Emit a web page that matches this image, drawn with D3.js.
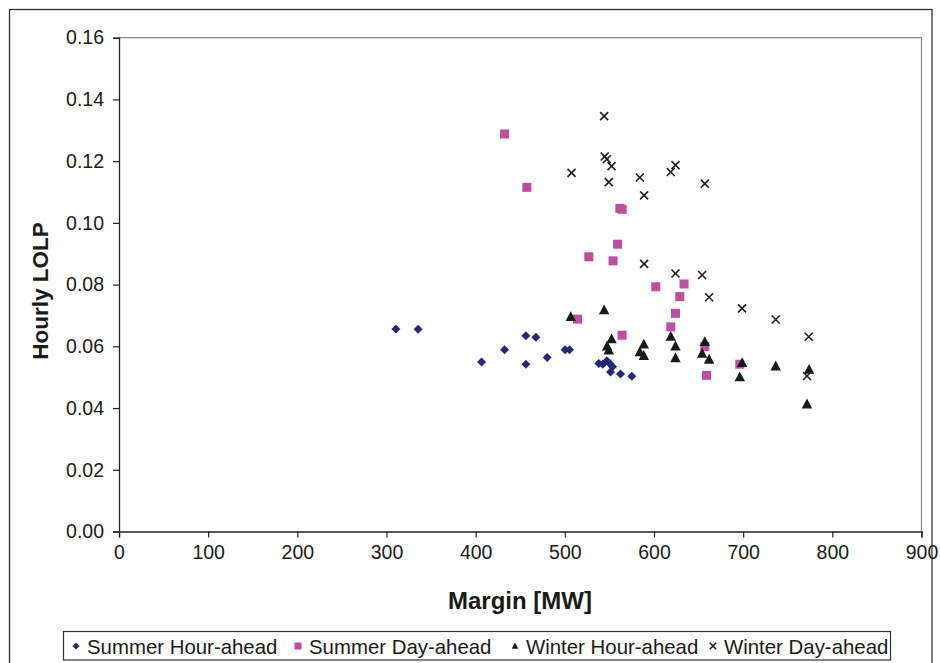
<!DOCTYPE html>
<html>
<head>
<meta charset="utf-8">
<script src="https://cdn.jsdelivr.net/npm/d3@7"></script>
<style>
  html, body { margin: 0; padding: 0; background: #fff; }
  svg { display: block; font-family: "Liberation Sans", Arial, sans-serif; }
</style>
</head>
<body>
<svg id="chart" width="940" height="663"></svg>
<script>
// Hourly loss-of-load probability versus generation margin
const xTicks = [0, 100, 200, 300, 400, 500, 600, 700, 800, 900];
const yTicks = [0, 0.02, 0.04, 0.06, 0.08, 0.10, 0.12, 0.14, 0.16];

const summerHourMW   = [310.5, 335.5, 406.6, 432.4, 456.3, 467.5, 456.3, 480.2, 500.3, 505.3, 538.1, 542.6, 547.1, 550.4, 553.5, 551.2, 562.4, 575.1];
const summerHourLOLP = [0.0656, 0.0655, 0.0549, 0.0589, 0.0634, 0.0629, 0.0542, 0.0564, 0.0589, 0.0589, 0.0544, 0.0542, 0.0553, 0.0544, 0.0534, 0.0517, 0.0510, 0.0503];

const summerDayMW   = [432.4, 457.4, 561.7, 564.3, 559.1, 526.9, 554.1, 602.0, 633.7, 628.9, 624.1, 618.8, 514.2, 564.2, 657.0, 696.2, 658.9];
const summerDayLOLP = [0.1288, 0.1115, 0.1047, 0.1044, 0.0931, 0.0890, 0.0877, 0.0793, 0.0802, 0.0761, 0.0707, 0.0663, 0.0688, 0.0636, 0.0599, 0.0542, 0.0506];

const winterHourMW   = [506.7, 544.1, 552.4, 547.4, 549.3, 588.6, 584.1, 588.6, 618.8, 624.1, 624.1, 657.0, 654.0, 661.8, 698.8, 696.2, 736.5, 773.9, 771.6];
const winterHourLOLP = [0.0696, 0.0718, 0.0624, 0.0601, 0.0588, 0.0607, 0.0582, 0.0570, 0.0632, 0.0601, 0.0563, 0.0615, 0.0577, 0.0558, 0.0547, 0.0501, 0.0536, 0.0525, 0.0413];

const winterDayMW   = [544.1, 544.7, 547.0, 552.4, 507.5, 549.3, 584.1, 588.9, 618.8, 624.1, 657.0, 588.9, 624.1, 654.0, 661.8, 698.8, 736.5, 773.5, 771.6];
const winterDayLOLP = [0.1346, 0.1215, 0.1206, 0.1184, 0.1162, 0.1132, 0.1147, 0.1089, 0.1165, 0.1187, 0.1127, 0.0867, 0.0836, 0.0831, 0.0759, 0.0723, 0.0687, 0.0631, 0.0504];

const seriesNames = ["Summer Hour-ahead", "Summer Day-ahead", "Winter Hour-ahead", "Winter Day-ahead"];

const series = [
  { name: seriesNames[0], mw: summerHourMW, lolp: summerHourLOLP, shape: "diamond",  color: "#262878" },
  { name: seriesNames[1], mw: summerDayMW,  lolp: summerDayLOLP,  shape: "square",   color: "#bd4f9f" },
  { name: seriesNames[2], mw: winterHourMW, lolp: winterHourLOLP, shape: "triangle", color: "#1a1a1a" },
  { name: seriesNames[3], mw: winterDayMW,  lolp: winterDayLOLP,  shape: "cross",    color: "#1e1e1e" }
];

const svg = d3.select("#chart");
const plotL = 119, plotR = 921.5, plotT = 37.7, plotB = 531.5;

const x = d3.scaleLinear().domain([0, 900]).range([plotL, plotR]);
const y = d3.scaleLinear().domain([0, 0.16]).range([plotB, plotT]);

// outer chart frame
svg.append("rect")
  .attr("x", 9.5).attr("y", 9.5).attr("width", 922.5).attr("height", 680)
  .attr("fill", "none").attr("stroke", "#333").attr("stroke-width", 1.3);

// plot-area frame (top and right edges)
svg.append("path")
  .attr("d", `M${plotL},${plotT}H${plotR}V${plotB}`)
  .attr("fill", "none").attr("stroke", "#8a8a8a").attr("stroke-width", 1.2);

// axes
const xAxis = d3.axisBottom(x).tickValues(xTicks).tickSize(6).tickPadding(8).tickFormat(d3.format("d"));
const yAxis = d3.axisLeft(y).tickValues(yTicks).tickSize(6).tickPadding(9).tickFormat(d3.format(".2f"));

const gx = svg.append("g").attr("transform", `translate(0,${plotB})`).call(xAxis);
const gy = svg.append("g").attr("transform", `translate(${plotL},0)`).call(yAxis);
[gx, gy].forEach(g => {
  g.select(".domain").attr("stroke", "#222").attr("stroke-width", 1.3);
  g.selectAll(".tick line").attr("stroke", "#222").attr("stroke-width", 1.2);
  g.selectAll(".tick text").attr("fill", "#1a1a1a").style("font-size", "19.5px")
    .style("font-family", "'Liberation Sans', Arial, sans-serif");
});

// axis titles
svg.append("text")
  .attr("x", 520).attr("y", 609).attr("text-anchor", "middle")
  .style("font-size", "24px").style("font-weight", "bold").attr("fill", "#1a1a1a")
  .text("Margin [MW]");
svg.append("text")
  .attr("transform", "translate(48,291) rotate(-90)").attr("text-anchor", "middle")
  .style("font-size", "22.5px").style("font-weight", "bold").attr("fill", "#1a1a1a")
  .text("Hourly LOLP");

// marker drawing
function drawMarker(g, shape, color, size) {
  const h = size / 2;
  if (shape === "diamond") {
    g.append("path").attr("d", `M0,${-h}L${h},0L0,${h}L${-h},0Z`).attr("fill", color);
  } else if (shape === "square") {
    g.append("rect").attr("x", -h).attr("y", -h).attr("width", size).attr("height", size).attr("fill", color);
  } else if (shape === "triangle") {
    g.append("path").attr("d", `M0,${-h}L${h * 0.95},${h * 0.8}L${-h * 0.95},${h * 0.8}Z`).attr("fill", color);
  } else {
    const c = h * 0.8;
    g.append("path").attr("d", `M${-c},${-c}L${c},${c}M${c},${-c}L${-c},${c}`)
      .attr("stroke", color).attr("stroke-width", 1.6).attr("fill", "none");
  }
}

const sizes = { diamond: 9, square: 9, triangle: 11, cross: 10 };

series.forEach(s => {
  const pts = s.mw.map((m, i) => ({ m, v: s.lolp[i] }));
  svg.append("g").selectAll("g").data(pts).join("g")
    .attr("transform", d => `translate(${x(d.m)},${y(d.v)})`)
    .each(function () { drawMarker(d3.select(this), s.shape, s.color, sizes[s.shape]); });
});

// legend
const legend = svg.append("g");
legend.append("rect")
  .attr("x", 63.5).attr("y", 631.5).attr("width", 827).attr("height", 28.5)
  .attr("fill", "#fff").attr("stroke", "#333").attr("stroke-width", 1.2);
const legendX = [76, 298, 515, 713];
series.forEach((s, i) => {
  const g = legend.append("g").attr("transform", `translate(${legendX[i]},646)`);
  drawMarker(g, s.shape, s.color, s.shape === "cross" ? 8 : 7);
  g.append("text").attr("x", 11).attr("y", 7.5)
    .style("font-size", "20.4px").attr("fill", "#1a1a1a").text(s.name);
});
</script>
</body>
</html>
